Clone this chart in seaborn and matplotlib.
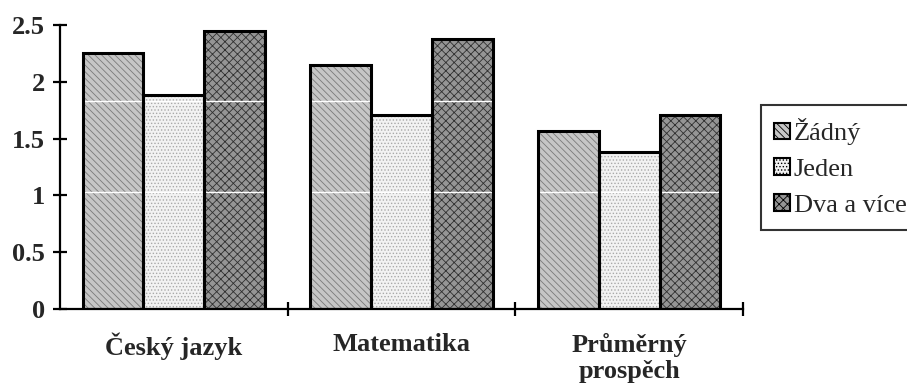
import numpy as np
import pandas as pd
import matplotlib
matplotlib.use('Agg')
import matplotlib.pyplot as plt
import matplotlib.patches as mpatches
import seaborn as sns

# data
categories = ['Český jazyk', 'Matematika', 'Průměrný\nprospěch']
groups = ['Žádný', 'Jeden', 'Dva a více']
zadny = [2.25, 2.15, 1.57]
jeden = [1.88, 1.71, 1.38]
dva = [2.45, 2.38, 1.71]
yticks = [0, 0.5, 1, 1.5, 2, 2.5]

data = pd.DataFrame({
    'kategorie': categories * 3,
    'skupina': [groups[0]] * 3 + [groups[1]] * 3 + [groups[2]] * 3,
    'hodnota': zadny + jeden + dva,
})

sns.set_style('white')
plt.rcParams['font.family'] = ['Liberation Serif', 'DejaVu Serif']
plt.rcParams['hatch.linewidth'] = 0.6

faces = ['#c6c6c6', '#f2f2f2', '#959595']
hatch_cols = ['#7a7a7a', '#a8a8a8', '#303030']
hatches = ['\\\\\\\\\\', '.....', 'xxxx']

fig = plt.figure(figsize=(9.07, 3.89), dpi=100)
ax = fig.add_axes([60 / 907, 1 - 309 / 389, (743 - 60) / 907, (309 - 25) / 389])

# pass 1: filled, hatched bars
sns.barplot(data=data, x='kategorie', y='hodnota', hue='skupina', hue_order=groups,
            order=categories, ax=ax, width=0.8, legend=False,
            palette=faces, saturation=1, linewidth=0, errorbar=None)
for cont, fc, hc, h in zip(ax.containers, faces, hatch_cols, hatches):
    for p in cont:
        p.set_facecolor(fc)
        p.set_edgecolor(hc)
        p.set_hatch(h)
        p.set_linewidth(0)
        p.set_zorder(1)

# pass 2: black outlines
n_fill = len(ax.containers)
sns.barplot(data=data, x='kategorie', y='hodnota', hue='skupina', hue_order=groups,
            order=categories, ax=ax, width=0.8, legend=False, fill=False,
            linewidth=2.2, errorbar=None)
for cont in ax.containers[n_fill:]:
    for p in cont:
        p.set_edgecolor('black')
        p.set_facecolor('none')
        p.set_zorder(3)

# faint white gridline remnants seen across the bars
for yv in [1.03, 1.83]:
    ax.axhline(yv, color='white', lw=1, zorder=2)

ax.set_ylim(0, 2.5)
ax.set_xlim(-0.5, 2.5)
ax.set_yticks(yticks)
ax.set_yticklabels(['0', '0.5', '1', '1.5', '2', '2.5'], fontsize=19, fontweight='bold')
ax.set_xticks([0.5, 1.5, 2.5])
ax.set_xticklabels([])
ax.set_xticks([0, 1, 2], minor=True)
ax.set_xticklabels(categories, minor=True, fontsize=19, fontweight='bold', linespacing=1.2)
ax.tick_params(axis='x', which='minor', bottom=False, length=0, pad=17)
ax.tick_params(axis='both', which='major', direction='inout', length=10, width=1.6,
               color='black', left=True, bottom=True)
ax.tick_params(axis='y', pad=6)
ax.set_xlabel('')
ax.set_ylabel('')
sns.despine(ax=ax)
for s in ['left', 'bottom']:
    ax.spines[s].set_linewidth(1.6)
    ax.spines[s].set_color('black')

# legend, box running past the right edge
handles = [mpatches.Patch(facecolor=fc, edgecolor='black', hatch=h, linewidth=1.5)
           for fc, h in zip(faces, hatches)]
leg = fig.legend(handles, groups, loc='upper left', bbox_to_anchor=(761 / 907, 1 - 105 / 389),
                 fontsize=19, frameon=True, fancybox=False, edgecolor='black',
                 handlelength=0.6, handleheight=0.6, handletextpad=0.15,
                 labelspacing=0.5, borderpad=0.5, borderaxespad=0)
leg.get_frame().set_linewidth(1.5)

fig.savefig('out.png', dpi=100)
